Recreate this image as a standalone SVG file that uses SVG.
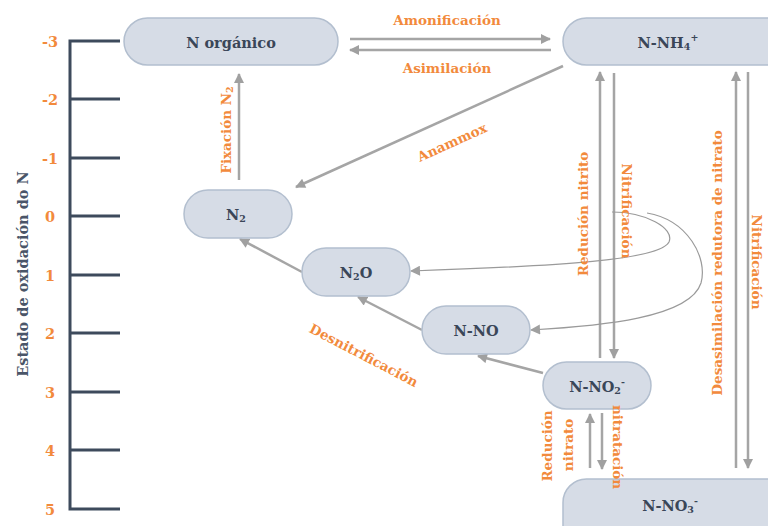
<svg xmlns="http://www.w3.org/2000/svg" width="768" height="526" viewBox="0 0 768 526">
<style>
.node{fill:#d6dce6;stroke:#b3bfcf;stroke-width:1.5}
.nt{font-family:"DejaVu Serif","Liberation Serif",serif;font-weight:bold;font-size:14.5px;fill:#3a4658;text-anchor:middle;dominant-baseline:central}
.lb{font-family:"DejaVu Serif","Liberation Serif",serif;font-weight:bold;font-size:13.5px;fill:#f28a3c;text-anchor:middle;dominant-baseline:central}
.tk{font-family:"DejaVu Serif","Liberation Serif",serif;font-weight:bold;font-size:14.5px;fill:#f28a3c;text-anchor:middle;dominant-baseline:central}
.ax{stroke:#3d4a5c;stroke-width:3;fill:none}
.ar{stroke:#a5a5a5;stroke-width:2.5;fill:none;marker-end:url(#ah)}
.cv{stroke:#9a9a9a;stroke-width:1.2;fill:none;marker-end:url(#ah)}
.sub{font-size:9.5px}
</style>
<defs>
<marker id="ah" viewBox="0 0 10 10" refX="9" refY="5" markerWidth="11" markerHeight="10" markerUnits="userSpaceOnUse" orient="auto"><path d="M0,0 L10,5 L0,10 z" fill="#a0a0a0"/></marker>
</defs>
<rect width="768" height="526" fill="#ffffff"/>

<g id="axis">
<path class="ax" d="M120,41 H70 V509 H120 M70,99 H120 M70,158 H120 M70,216 H120 M70,275 H120 M70,333 H120 M70,392 H120 M70,450 H120"/>
<text class="tk" x="50" y="41">-3</text>
<text class="tk" x="50" y="99">-2</text>
<text class="tk" x="50" y="158">-1</text>
<text class="tk" x="50" y="216">0</text>
<text class="tk" x="50" y="275">1</text>
<text class="tk" x="50" y="333">2</text>
<text class="tk" x="50" y="392">3</text>
<text class="tk" x="50" y="450">4</text>
<text class="tk" x="50" y="509">5</text>
<text transform="translate(22,274) rotate(-90)" style="font-family:'DejaVu Serif','Liberation Serif',serif;font-weight:bold;font-size:14.5px;fill:#4a5568;text-anchor:middle;dominant-baseline:central">Estado de oxidación do N</text>
</g>

<g id="connectors">
<line class="ar" x1="350" y1="39" x2="550" y2="39"/>
<line class="ar" x1="551" y1="50" x2="350" y2="50"/>
<line class="ar" x1="563" y1="66" x2="296" y2="187"/>
<line class="ar" x1="239" y1="180" x2="239" y2="74"/>
<line class="ar" x1="302" y1="272" x2="240" y2="239"/>
<line class="ar" x1="422" y1="330" x2="358" y2="297"/>
<line class="ar" x1="543" y1="373" x2="478" y2="356"/>
<line class="ar" x1="600" y1="358" x2="600" y2="72"/>
<line class="ar" x1="614" y1="73" x2="614" y2="358"/>
<line class="ar" x1="736" y1="468" x2="736" y2="72"/>
<line class="ar" x1="748" y1="72" x2="748" y2="468"/>
<line class="ar" x1="590" y1="468" x2="590" y2="414"/>
<line class="ar" x1="602" y1="413" x2="602" y2="469"/>
<path class="cv" d="M612,212 C645,212 675,228 669,242 C660,260 560,266 411,271"/>
<path class="cv" d="M647,213 C688,220 708,258 701,283 C690,318 600,326 531,330"/>
</g>

<g id="n-organico">
<rect class="node" x="124" y="18" width="214" height="47" rx="23.5"/>
<text class="nt" x="231" y="42">N orgánico</text>
</g>
<g id="n-nh4">
<rect class="node" x="563" y="18" width="240" height="47" rx="23.5"/>
<text class="nt" x="668" y="42">N-NH<tspan class="sub" dy="4">4</tspan><tspan class="sub" dy="-9">+</tspan></text>
</g>
<g id="n2">
<rect class="node" x="184" y="190" width="108" height="48" rx="24"/>
<text class="nt" x="236" y="214">N<tspan class="sub" dy="4">2</tspan></text>
</g>
<g id="n2o">
<rect class="node" x="302" y="248" width="108" height="48" rx="24"/>
<text class="nt" x="356" y="272">N<tspan class="sub" dy="4">2</tspan><tspan dy="-4">O</tspan></text>
</g>
<g id="n-no">
<rect class="node" x="422" y="306" width="108" height="48" rx="24"/>
<text class="nt" x="476" y="330">N-NO</text>
</g>
<g id="n-no2">
<rect class="node" x="543" y="362" width="108" height="47" rx="23.5"/>
<text class="nt" x="597" y="386">N-NO<tspan class="sub" dy="4">2</tspan><tspan class="sub" dy="-9">-</tspan></text>
</g>
<g id="n-no3">
<rect class="node" x="563" y="479" width="240" height="70" rx="23.5"/>
<text class="nt" x="670" y="505">N-NO<tspan class="sub" dy="4">3</tspan><tspan class="sub" dy="-9">-</tspan></text>
</g>

<g id="connector-labels">
<text class="lb" x="447" y="20">Amonificación</text>
<text class="lb" x="447" y="68">Asimilación</text>
<text class="lb" transform="translate(452,142) rotate(-24.5)">Anammox</text>
<text class="lb" transform="translate(226,130) rotate(-90)">Fixación N<tspan class="sub" dy="3">2</tspan></text>
<text class="lb" transform="translate(364,355) rotate(27.5)">Desnitrificación</text>
<text class="lb" transform="translate(583,214) rotate(-90)">Redución nitrito</text>
<text class="lb" transform="translate(627,211) rotate(90)">Nitrificación</text>
<text class="lb" transform="translate(717,263) rotate(-90)">Desasimilación redutora de nitrato</text>
<text class="lb" transform="translate(757,262) rotate(90)">Nitrificación</text>
<text class="lb" transform="translate(547,446) rotate(-90)">Redución</text>
<text class="lb" transform="translate(568,445) rotate(-90)">nitrato</text>
<text class="lb" transform="translate(618,447) rotate(90)">nitratación</text>
</g>
</svg>
